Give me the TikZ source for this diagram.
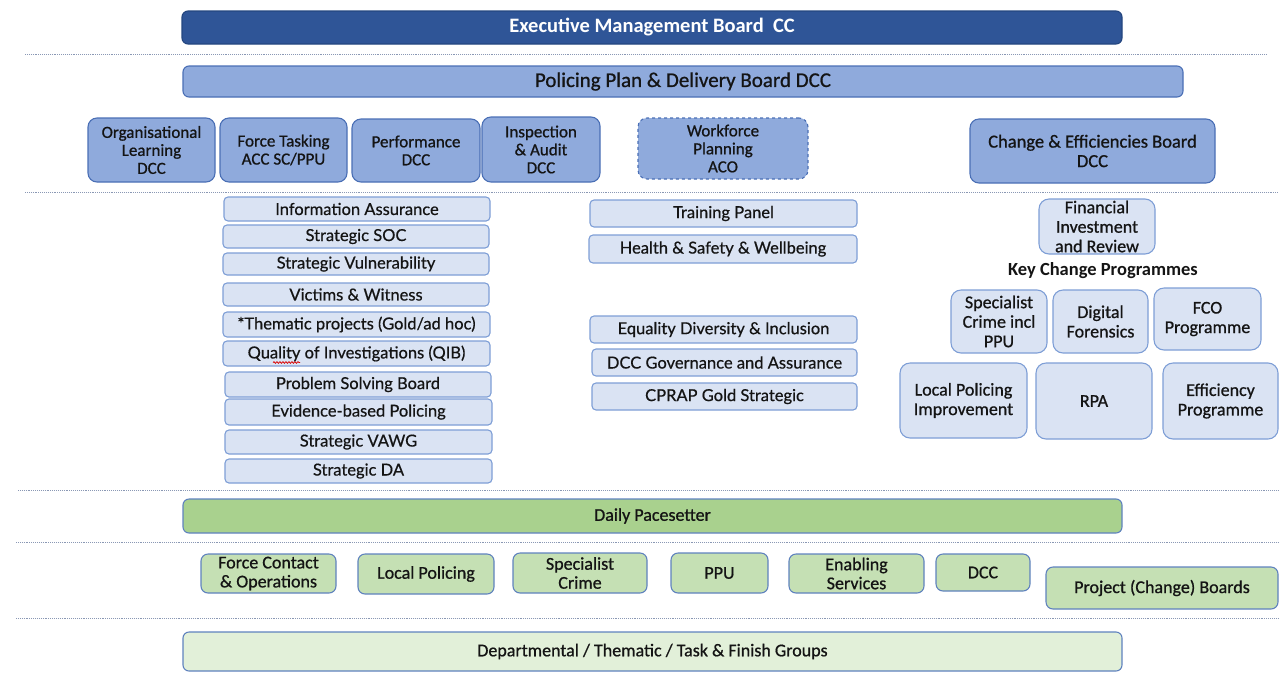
\documentclass[tikz,border=0pt]{standalone}
\usepackage{fontspec}
\usetikzlibrary{decorations.pathmorphing}
\setmainfont{Carlito}
\newfontfamily\medium[FakeBold=0.8]{Carlito}
\newfontfamily\latomed[FakeBold=0.6]{Lato}
\definecolor{ExecBlue}{HTML}{2F5597}
\definecolor{ExecBorder}{HTML}{24467F}
\definecolor{MidBlue}{HTML}{8FAADC}
\definecolor{MidBorder}{HTML}{4A6FB5}
\definecolor{PaleBlue}{HTML}{DAE3F3}
\definecolor{PaleBorder}{HTML}{7E9ED6}
\definecolor{MidGreen}{HTML}{A9D18E}
\definecolor{LightGreen}{HTML}{C5E0B4}
\definecolor{PaleGreen}{HTML}{E2F0D9}
\definecolor{GreenBorder}{HTML}{5F82BE}
\definecolor{SepGray}{HTML}{8A98B4}
\definecolor{Ink}{HTML}{141414}
% box placed by its corners: style, x1, y1, x2, y2, name, text
\newcommand\panel[7]{%
  \node[#1, minimum width={(#4-#2)*1pt}, minimum height={(#5-#3)*1pt}]
    (#6) at ({(#2+#4)/2},{(#3+#5)/2}) {#7};}
\begin{document}
\begin{tikzpicture}[x=1pt,y=-1pt,
  base/.style={rounded corners=6pt, inner sep=1pt, outer sep=0pt, align=center,
    text=Ink, line width=1.1pt},
  exec/.style={base, fill=ExecBlue, draw=ExecBorder, text=white,
    font=\fontsize{20.5}{24}\selectfont\bfseries},
  plan/.style={base, fill=MidBlue, draw=MidBorder, font=\medium\fontsize{21}{24}\selectfont},
  forum/.style={base, rounded corners=9pt, fill=MidBlue, draw=MidBorder,
    font=\medium\fontsize{17}{18}\selectfont},
  item/.style={base, rounded corners=4pt, fill=PaleBlue, draw=PaleBorder,
    font=\latomed\fontsize{16.5}{18}\selectfont},
  prog/.style={base, rounded corners=10pt, fill=PaleBlue, draw=PaleBorder,
    font=\medium\fontsize{18}{19.5}\selectfont},
  daily/.style={base, fill=MidGreen, draw=GreenBorder, font=\medium\fontsize{18}{20}\selectfont},
  unit/.style={base, rounded corners=7pt, fill=LightGreen, draw=GreenBorder,
    font=\medium\fontsize{18}{19}\selectfont},
  groups/.style={base, fill=PaleGreen, draw=GreenBorder, font=\medium\fontsize{18}{20}\selectfont},
  sep/.style={densely dotted, draw=SepGray, line width=0.9pt},
  spellmark/.style={draw=red!85!black, line width=0.7pt, decorate,
    decoration={snake, amplitude=0.9pt, segment length=3pt}},
  heading/.style={inner sep=0pt, text=Ink, font=\fontsize{18.5}{21}\selectfont\bfseries}]
\useasboundingbox (0,0) rectangle (1279,673);

% level separators
\draw[sep] (25,54) -- (1267,54);
\draw[sep] (25,192) -- (1279,192);
\draw[sep] (18,490) -- (1279,490);
\draw[sep] (16,542) -- (1279,542);
\draw[sep] (16,618) -- (1279,618);

% strategic boards
\panel{exec}{182}{11}{1122}{44}{emb}{\raisebox{-1.5pt}{Executive Management Board\ \ CC}}
\panel{plan}{183}{66}{1183}{97}{ppdb}{Policing Plan \& Delivery Board DCC}

% boards reporting to the delivery board
\panel{forum}{88}{118}{215}{182}{orgl}{Organisational\\Learning\\DCC}
\panel{forum}{220}{118}{347}{182}{task}{Force Tasking\\ACC SC/PPU}
\panel{forum}{352}{119}{480}{182}{perf}{Performance\\DCC}
\panel{forum}{482}{117}{600}{182}{insp}{Inspection\\\& Audit\\DCC}
\panel{forum,dashed}{638}{118}{808}{179}{wfp}{Workforce\\Planning\\ACO}
\panel{forum,font=\medium\fontsize{18.5}{19.5}\selectfont}{970}{119}{1215}{183}{ceb}{Change \& Efficiencies Board\\DCC}

% thematic groups, left column
\panel{item}{224}{197}{490}{221}{ia}{Information Assurance}
\panel{item}{223}{225}{489}{248}{soc}{Strategic SOC}
\panel{item}{223}{253}{489}{275}{vul}{Strategic Vulnerability}
\panel{item}{223}{283}{489}{306}{vw}{Victims \& Witness}
\panel{item}{223}{312}{490}{337}{thp}{*Thematic projects (Gold/ad hoc)}
\panel{item}{223}{341}{490}{366}{qib}{Quality of Investigations (QIB)}
\draw[spellmark] (273,362.5) -- (300,362.5);
\panel{item}{225}{372}{491}{397}{psb}{Problem Solving Board}
\panel{item}{225}{399}{492}{425}{ebp}{Evidence-based Policing}
\panel{item}{225}{430}{492}{454}{vawg}{Strategic VAWG}
\panel{item}{225}{459}{492}{483}{da}{Strategic DA}

% workforce groups, centre column
\panel{item}{590}{200}{857}{227}{tp}{Training Panel}
\panel{item}{589}{235}{857}{263}{hsw}{Health \& Safety \& Wellbeing}
\panel{item}{590}{316}{857}{343}{edi}{Equality Diversity \& Inclusion}
\panel{item}{592}{349}{857}{376}{dga}{DCC Governance and Assurance}
\panel{item}{592}{383}{857}{410}{cprap}{CPRAP Gold Strategic}

% change programmes, right column
\panel{prog}{1039}{199}{1155}{254}{fir}{Financial\\Investment\\and Review}
\node[heading] (kcp) at (1103,271) {Key Change Programmes};
\panel{prog}{951}{290}{1047}{353}{scp}{Specialist\\Crime incl\\PPU}
\panel{prog}{1053}{290}{1148}{353}{dfor}{Digital\\Forensics}
\panel{prog}{1154}{288}{1261}{350}{fcop}{FCO\\Programme}
\panel{prog}{900}{363}{1027}{438}{lpi}{Local Policing\\Improvement}
\panel{prog}{1036}{363}{1152}{439}{rpa}{RPA}
\panel{prog}{1163}{363}{1278}{439}{effp}{Efficiency\\Programme}

% operational delivery
\panel{daily}{183}{499}{1122}{533}{dps}{Daily Pacesetter}
\panel{unit}{201}{554}{336}{593}{fco}{Force Contact\\\& Operations}
\panel{unit}{358}{554}{494}{594}{lp}{Local Policing}
\panel{unit}{513}{553}{647}{593}{sc}{Specialist\\Crime}
\panel{unit}{671}{553}{768}{593}{ppu}{PPU}
\panel{unit}{789}{554}{924}{593}{ens}{Enabling\\Services}
\panel{unit}{936}{554}{1030}{591}{dcc}{DCC}
\panel{unit}{1046}{567}{1278}{609}{pcb}{Project (Change) Boards}
\panel{groups}{183}{632}{1122}{671}{dtg}{Departmental / Thematic / Task \& Finish Groups}
\end{tikzpicture}
\end{document}
